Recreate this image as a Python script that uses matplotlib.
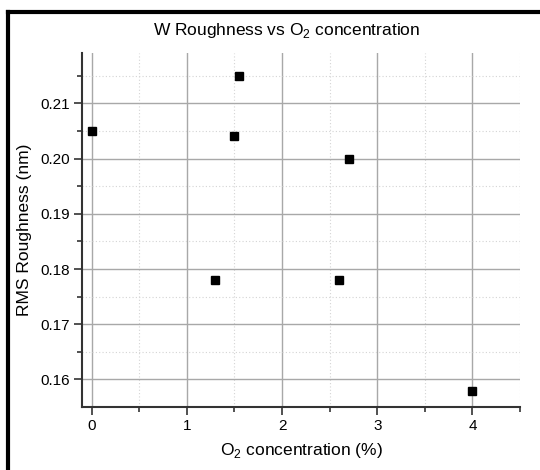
import matplotlib
matplotlib.use('Agg')
import matplotlib.pyplot as plt
from matplotlib.lines import Line2D
from matplotlib.ticker import MultipleLocator

plt.rcParams.update({'font.family': 'Liberation Sans', 'font.size': 11,
                     'mathtext.fontset': 'custom',
                     'mathtext.rm': 'Liberation Sans'})

# O2 concentration (%) and RMS roughness (nm)
o2_conc = [0.0, 1.3, 1.5, 1.55, 2.6, 2.7, 4.0]
rms_rough = [0.205, 0.178, 0.204, 0.215, 0.178, 0.200, 0.158]

fig = plt.figure(figsize=(5.4, 4.7), dpi=100)
ax = fig.add_axes([0.152, 0.135, 0.811, 0.752])

ax.plot(o2_conc, rms_rough, linestyle='none', marker='s', ms=5.5,
        color='black', zorder=3)

ax.set_xlim(-0.1, 4.5)
ax.set_ylim(0.1551, 0.2191)
ax.xaxis.set_major_locator(MultipleLocator(1))
ax.xaxis.set_minor_locator(MultipleLocator(0.5))
ax.yaxis.set_major_locator(MultipleLocator(0.01))
ax.yaxis.set_minor_locator(MultipleLocator(0.005))
ax.yaxis.set_major_formatter(matplotlib.ticker.FormatStrFormatter('%.2f'))

ax.grid(which='major', color='#a8a8a8', linewidth=1.0, linestyle='-')
ax.grid(which='minor', color='#d4d4d4', linewidth=0.8, linestyle=(0, (1, 2)))
ax.set_axisbelow(True)

for side in ('top', 'right'):
    ax.spines[side].set_visible(False)
for side in ('left', 'bottom'):
    ax.spines[side].set_linewidth(1.5)
    ax.spines[side].set_color('#333333')
ax.tick_params(which='major', direction='out', length=6, width=1.2,
               color='#333333', pad=3, labelsize=11)
ax.tick_params(which='minor', direction='out', length=3.5, width=1.2,
               color='#333333')

ax.set_xlabel(r'O$_2$ concentration (%)', fontsize=12.5, labelpad=6)
ax.set_ylabel('RMS Roughness (nm)', fontsize=12.5, labelpad=6)
fig.text(0.53, 0.935, r'W Roughness vs O$_2$ concentration',
         ha='center', va='center', fontsize=12.5)

# heavy frame along the top and left edges
fig.add_artist(Line2D([0.0139, 1.0], [0.9745, 0.9745], color='black',
                      linewidth=3, transform=fig.transFigure))
fig.add_artist(Line2D([0.0139, 0.0139], [0.0, 0.9745], color='black',
                      linewidth=3, transform=fig.transFigure))

fig.savefig('out.png', dpi=100)
plt.close(fig)
